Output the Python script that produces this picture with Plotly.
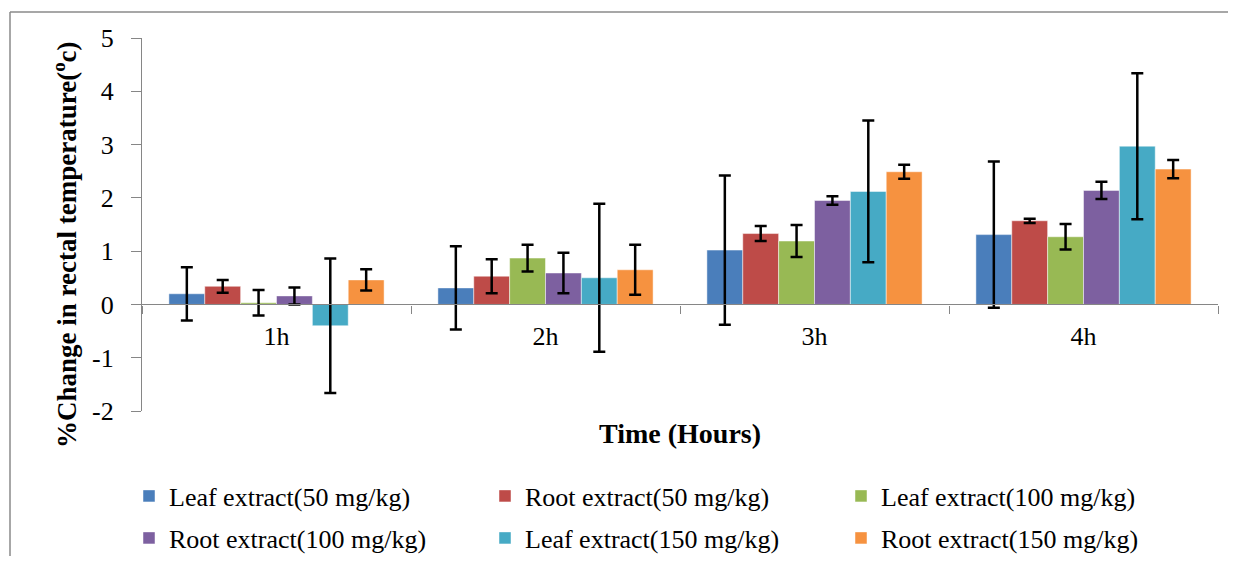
import plotly.graph_objects as go

categories = ["1h", "2h", "3h", "4h"]
series_names = [
    "Leaf extract(50 mg/kg)", "Root extract(50 mg/kg)", "Leaf extract(100 mg/kg)",
    "Root extract(100 mg/kg)", "Leaf extract(150 mg/kg)", "Root extract(150 mg/kg)",
]
leaf50 = [0.20, 0.31, 1.02, 1.31]
root50 = [0.34, 0.53, 1.33, 1.57]
leaf100 = [0.03, 0.87, 1.19, 1.27]
root100 = [0.16, 0.59, 1.95, 2.14]
leaf150 = [-0.40, 0.50, 2.12, 2.97]
root150 = [0.46, 0.65, 2.49, 2.54]

err_leaf50 = [0.50, 0.78, 1.40, 1.37]
err_root50 = [0.12, 0.32, 0.14, 0.04]
err_leaf100 = [0.24, 0.25, 0.30, 0.24]
err_root100 = [0.16, 0.38, 0.08, 0.16]
err_leaf150 = [1.26, 1.39, 1.33, 1.37]
err_root150 = [0.20, 0.47, 0.13, 0.17]

y_tick_vals = [-2, -1, 0, 1, 2, 3, 4, 5]
y_tick_text = ["-2", "-1", "0", "1", "2", "3", "4", "5"]

values = [leaf50, root50, leaf100, root100, leaf150, root150]
errors = [err_leaf50, err_root50, err_leaf100, err_root100, err_leaf150, err_root150]
colors = ["#4A7EBB", "#BE4B48", "#98B954", "#7D60A0", "#46AAC5", "#F69240"]
legend_ids = ["legend", "legend", "legend", "legend2", "legend2", "legend2"]

FONT = "Liberation Serif"

# figure coordinates (page has an 8px body margin on every side)
W, H = 1220, 548
L, R, T, B = 134, 10, 30, 145
PW, PH = W - L - R, H - T - B


def px(xf):
    return (xf - L) / PW


def py(yf):
    return (H - B - yf) / PH


fig = go.Figure()
for name, vals, errs, col, lg in zip(series_names, values, errors, colors, legend_ids):
    fig.add_trace(go.Bar(
        x=categories, y=vals, name=name,
        marker=dict(color=col, line=dict(color="rgba(255,255,255,0.6)", width=0.8)),
        error_y=dict(type="data", array=errs, visible=True, color="black", thickness=2.5, width=6),
        legend=lg,
    ))

legend_common = dict(
    orientation="h", xref="container", yref="container", x=121 / W, xanchor="left",
    yanchor="middle", font=dict(family=FONT, size=26, color="black"),
    entrywidth=311, entrywidthmode="pixels", bgcolor="rgba(0,0,0,0)", itemclick=False,
)

border = dict(color="#8a8a8a", width=1.5)

fig.update_layout(
    width=W, height=H,
    margin=dict(l=L, r=R, t=T, b=B),
    paper_bgcolor="white", plot_bgcolor="white",
    barmode="group", bargap=0.2, bargroupgap=0,
    font=dict(family=FONT, size=26, color="black"),
    showlegend=True,
    legend=dict(legend_common, y=1 - 488 / H),
    legend2=dict(legend_common, y=1 - 530 / H),
    yaxis=dict(
        range=[-2, 5], tickvals=y_tick_vals, ticktext=y_tick_text,
        showgrid=False, zeroline=False, automargin=False,
        showline=True, linecolor="#868686", linewidth=1.2,
        ticks="outside", ticklen=10, tickcolor="#868686",
        tickfont=dict(family=FONT, size=26), ticklabelstandoff=12,
    ),
    xaxis=dict(
        anchor="free", position=2 / 7, showgrid=False, zeroline=False, automargin=False,
        showline=True, linecolor="#868686", linewidth=1.2,
        ticks="outside", ticklen=8, tickcolor="#868686", tickson="boundaries",
        tickfont=dict(family=FONT, size=26), ticklabelstandoff=8,
    ),
    annotations=[
        dict(text="<b>Time (Hours)</b>", xref="paper", yref="paper", x=0.5, y=py(425),
             xanchor="center", yanchor="middle", showarrow=False,
             font=dict(family=FONT, size=28, color="black")),
        dict(text="<b>%Change in rectal temperature(<sup>o</sup>c)</b>", xref="paper", yref="paper",
             x=px(57), y=py(237), xanchor="center", yanchor="middle", showarrow=False,
             textangle=-90, font=dict(family=FONT, size=27, color="black")),
    ],
    shapes=[
        dict(type="line", xref="paper", yref="paper",
             x0=px(2), x1=px(W), y0=py(4), y1=py(4), line=border, layer="below"),
        dict(type="line", xref="paper", yref="paper",
             x0=px(2), x1=px(2), y0=py(4), y1=py(H), line=border, layer="below"),
    ],
)

fig.write_html("out.html")
